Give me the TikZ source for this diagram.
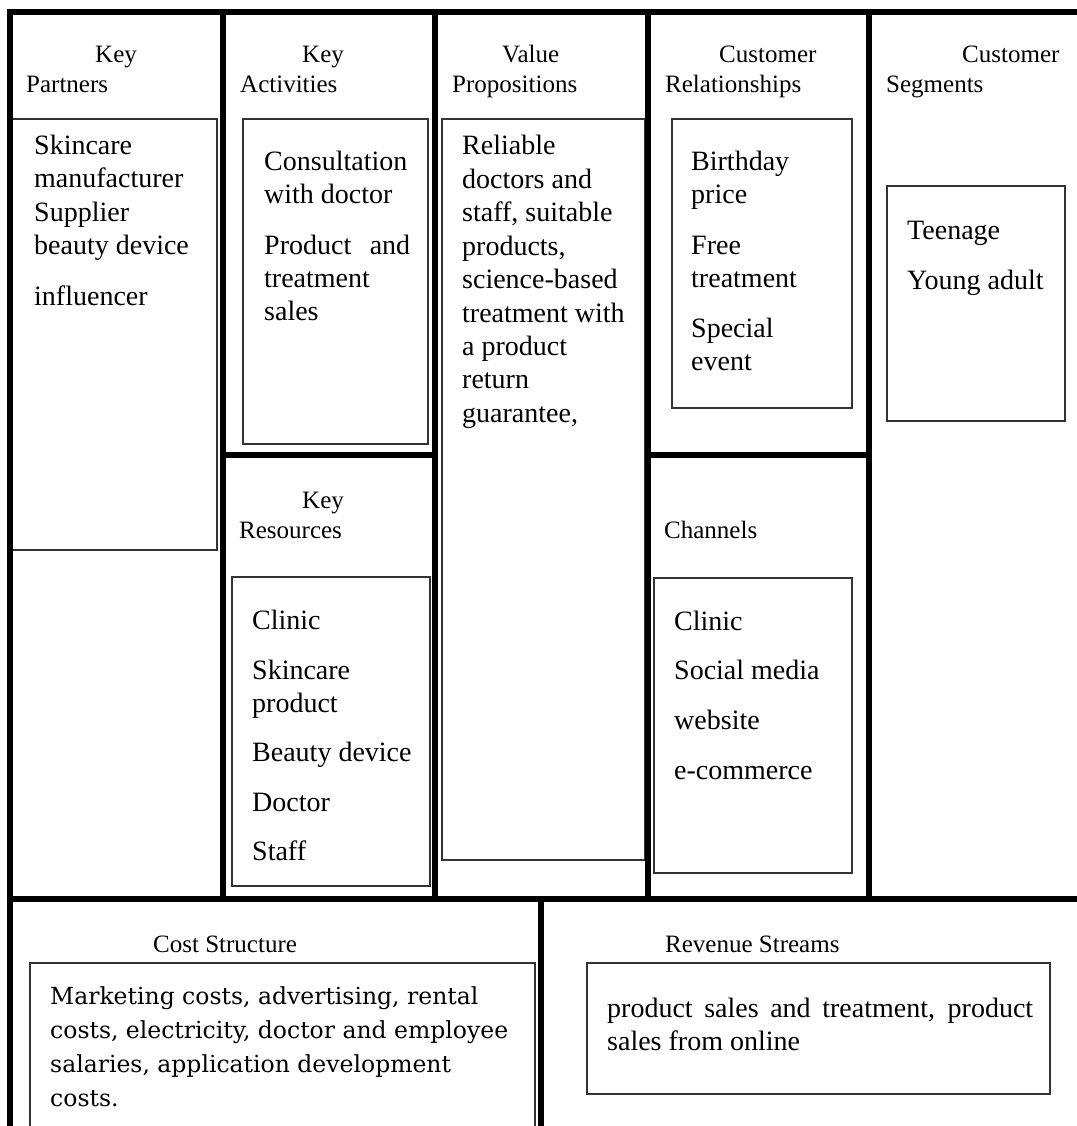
\documentclass[tikz,border=0pt]{standalone}
\usepackage{fontspec}
\setmainfont{Liberation Serif}
\newfontfamily\cambriaish{DejaVu Serif}
\begin{document}
\begin{tikzpicture}[x=1pt,y=-1pt,
  frame/.style={line width=5.5pt,line cap=rect},
  inbox/.style={draw=black!80,line width=1.3pt},
  head/.style={anchor=base west,inner sep=0pt,font=\fontsize{25}{30}\selectfont},
  body/.style={anchor=base west,inner sep=0pt,font=\fontsize{28}{33}\selectfont},
  costtxt/.style={anchor=base west,inner sep=0pt,font=\cambriaish\fontsize{23.5}{34}\selectfont}]
\useasboundingbox (0,0) rectangle (1076,1126);
% ---------- inner boxes ----------
\draw[inbox] (12,119) rectangle (217,550);
\draw[inbox] (243,119) rectangle (428,444);
\draw[inbox] (442,119) rectangle (645,860);
\draw[inbox] (672,119) rectangle (852,408);
\draw[inbox] (887,186) rectangle (1065,421);
\draw[inbox] (232,577) rectangle (430,886);
\draw[inbox] (654,578) rectangle (852,873);
\draw[inbox] (30,963) rectangle (535,1130);
\draw[inbox] (587,963) rectangle (1050,1094);
% ---------- thick frame ----------
\draw[frame] (1080,12) -- (10,12) -- (10,1130);
\draw[frame] (223,12) -- (223,899);
\draw[frame] (435,12) -- (435,899);
\draw[frame] (648,12) -- (648,899);
\draw[frame] (869,12) -- (869,899);
\draw[frame] (223,455) -- (435,455);
\draw[frame] (648,455) -- (869,455);
\draw[frame] (10,899) -- (1080,899);
\draw[frame] (541,899) -- (541,1130);
% ---------- headers ----------
\node[head] (kp1) at (95,63) {Key};
\node[head] (kp2) at (26,93) {Partners};
\node[head] (ka1) at (302,63) {Key};
\node[head] (ka2) at (240,93) {Activities};
\node[head] (vp1) at (502,63) {Value};
\node[head] (vp2) at (452,93) {Propositions};
\node[head] (cr1) at (719,63) {Customer};
\node[head] (cr2) at (665,93) {Relationships};
\node[head] (cs1) at (962,63) {Customer};
\node[head] (cs2) at (886,93) {Segments};
\node[head] (kr1) at (302,508) {Key};
\node[head] (kr2) at (239,538) {Resources};
\node[head] (ch1) at (664,538) {Channels};
\node[head] (cst) at (153,952) {Cost Structure};
\node[head] (rvs) at (665,952) {Revenue Streams};
% ---------- Key Partners ----------
\node[body] (kpa) at (34,155) {Skincare};
\node[body] (kpb) at (34,188) {manufacturer};
\node[body] (kpc) at (34,221) {Supplier};
\node[body] (kpd) at (34,254) {beauty device};
\node[body] (kpe) at (34,305) {influencer};
% ---------- Key Activities ----------
\node[body] (kaa) at (264,171) {Consultation};
\node[body] (kab) at (264,204) {with doctor};
\node[body] (kac) at (264,254) {\makebox[146pt][s]{Product and}};
\node[body] (kad) at (264,287) {treatment};
\node[body] (kae) at (264,320) {sales};
% ---------- Value Propositions ----------
\node[body] (vpa) at (462,155) {Reliable};
\node[body] (vpb) at (462,188.4) {doctors and};
\node[body] (vpc) at (462,221.8) {staff, suitable};
\node[body] (vpd) at (462,255.2) {products,};
\node[body] (vpe) at (462,288.6) {science-based};
\node[body] (vpf) at (462,322) {treatment with};
\node[body] (vpg) at (462,355.4) {a product};
\node[body] (vph) at (462,388.8) {return};
\node[body] (vpi) at (462,422.2) {guarantee,};
% ---------- Customer Relationships ----------
\node[body] (cra) at (691,171) {Birthday};
\node[body] (crb) at (691,204) {price};
\node[body] (crc) at (691,254) {Free};
\node[body] (crd) at (691,287) {treatment};
\node[body] (cre) at (691,337) {Special};
\node[body] (crf) at (691,370) {event};
% ---------- Customer Segments ----------
\node[body] (csa) at (907,239) {Teenage};
\node[body] (csb) at (907,289) {Young adult};
% ---------- Key Resources ----------
\node[body] (kra) at (252,629) {Clinic};
\node[body] (krb) at (252,679) {Skincare};
\node[body] (krc) at (252,712) {product};
\node[body] (krd) at (252,761) {Beauty device};
\node[body] (kre) at (252,811) {Doctor};
\node[body] (krf) at (252,860) {Staff};
% ---------- Channels ----------
\node[body] (cha) at (674,630) {Clinic};
\node[body] (chb) at (674,679) {Social media};
\node[body] (chc) at (674,729) {website};
\node[body] (chd) at (674,779) {e-commerce};
% ---------- Cost Structure ----------
\node[costtxt] (csta) at (50,1004) {Marketing costs, advertising, rental};
\node[costtxt] (cstb) at (50,1038) {costs, electricity, doctor and employee};
\node[costtxt] (cstc) at (50,1072) {salaries, application development};
\node[costtxt] (cstd) at (50,1106) {costs.};
% ---------- Revenue Streams ----------
\node[body] (rva) at (607,1017) {\makebox[426pt][s]{product sales and treatment, product}};
\node[body] (rvb) at (607,1050) {sales from online};
\end{tikzpicture}
\end{document}
